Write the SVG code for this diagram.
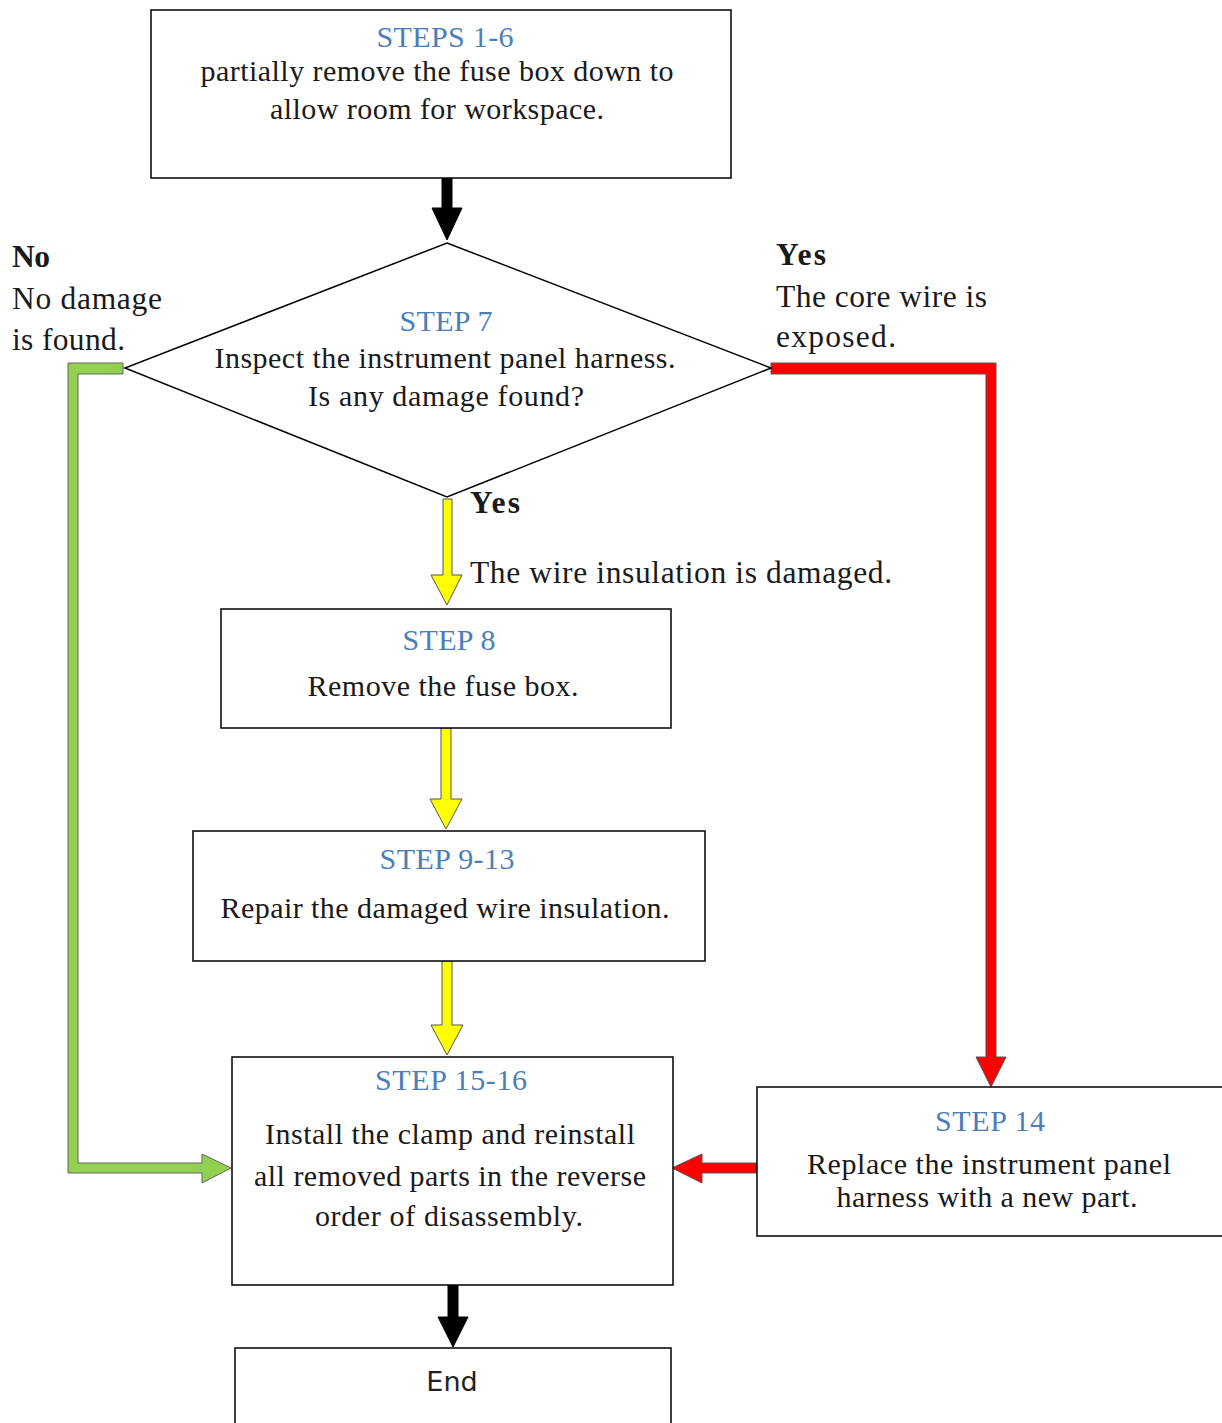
<svg xmlns="http://www.w3.org/2000/svg" width="1222" height="1423" viewBox="0 0 1222 1423">
<style>
.box{fill:#fff;stroke:#000;stroke-width:1.5}
.t{font-family:"Liberation Serif",serif;font-size:30px;fill:#1a1a1a}
.l{font-size:31.5px}
.b{font-family:"Liberation Serif",serif;font-size:30px;fill:#4a7ebb}
.bold{font-weight:bold}
.c{text-anchor:middle}
.blk{fill:#000;stroke:#000;stroke-width:1}
.yel{fill:#ffff00;stroke:#555;stroke-width:1}
.grn{fill:#92d050;stroke:#666;stroke-width:1}
.red{fill:#ff0000;stroke:#555;stroke-width:1}
</style>
<rect width="1222" height="1423" fill="#fff"/>
<g id="connectors">
<polygon class="blk" points="442,178 452,178 452,208 462,208 447,240 432,208 442,208"/>
<polygon class="yel" points="443,499 452,499 452,575 462,575 447,605 431,575 443,575"/>
<polygon class="yel" points="441,728 451,728 451,799 462,799 446,829 430,799 441,799"/>
<polygon class="yel" points="442,961 452,961 452,1025 463,1025 447,1055 431,1025 442,1025"/>
<polygon class="blk" points="448,1285 458,1285 458,1317 468,1317 453,1347 438,1317 448,1317"/>
<polygon class="grn" points="123,363 123,374 78,374 78,1163 202,1163 202,1154 231,1168 202,1183 202,1173 68,1173 68,363"/>
<polygon class="red" points="771,363 996,363 996,1057 1006,1057 991,1087 976,1057 986,1057 986,374 771,374"/>
<polygon class="red" points="757,1163 757,1173 702,1173 702,1183 672,1168 702,1154 702,1163"/>
<text class="t l bold" x="12" y="267" textLength="38">No</text>
<text class="t l" x="12" y="309" textLength="150">No damage</text>
<text class="t l" x="12" y="350" textLength="113">is found.</text>
<text class="t l bold" x="776" y="265" textLength="50">Yes</text>
<text class="t l" x="776" y="307" textLength="211">The core wire is</text>
<text class="t l" x="776" y="347" textLength="120">exposed.</text>
<text class="t l bold" x="470" y="513" textLength="50">Yes</text>
<text class="t l" x="470" y="583" textLength="422">The wire insulation is damaged.</text>
</g>
<g id="n1">
<rect class="box" x="151" y="10" width="580" height="168"/>
<text class="b c" x="445" y="47" textLength="137">STEPS 1-6</text>
<text class="t c" x="437" y="81" textLength="473">partially remove the fuse box down to</text>
<text class="t c" x="437" y="119" textLength="334">allow room for workspace.</text>
</g>
<g id="n2">
<polygon class="box" points="447,243 771,368 447,497 125,368"/>
<text class="b c" x="446" y="331" textLength="93">STEP 7</text>
<text class="t c" x="445" y="368" textLength="461">Inspect the instrument panel harness.</text>
<text class="t c" x="446" y="406" textLength="276">Is any damage found?</text>
</g>
<g id="n3">
<rect class="box" x="221" y="609" width="450" height="119"/>
<text class="b c" x="449" y="650" textLength="93">STEP 8</text>
<text class="t c" x="443" y="696" textLength="271">Remove the fuse box.</text>
</g>
<g id="n4">
<rect class="box" x="193" y="831" width="512" height="130"/>
<text class="b c" x="447" y="869" textLength="135">STEP 9-13</text>
<text class="t c" x="445" y="918" textLength="449">Repair the damaged wire insulation.</text>
</g>
<g id="n5">
<rect class="box" x="232" y="1057" width="441" height="228"/>
<text class="b c" x="451" y="1090" textLength="152">STEP 15-16</text>
<text class="t c" x="450" y="1144" textLength="370">Install the clamp and reinstall</text>
<text class="t c" x="450" y="1186" textLength="392">all removed parts in the reverse</text>
<text class="t c" x="449" y="1226" textLength="268">order of disassembly.</text>
</g>
<g id="n6">
<rect class="box" x="757" y="1087" width="470" height="149"/>
<text class="b c" x="990" y="1131" textLength="110">STEP 14</text>
<text class="t c" x="989" y="1174" textLength="364">Replace the instrument panel</text>
<text class="t c" x="987" y="1207" textLength="301">harness with a new part.</text>
</g>
<g id="n7">
<rect class="box" x="235" y="1348" width="436" height="90"/>
<text class="c" x="452" y="1391" style="font-family:'DejaVu Sans',sans-serif;font-size:27px;fill:#222">End</text>
</g>
</svg>
